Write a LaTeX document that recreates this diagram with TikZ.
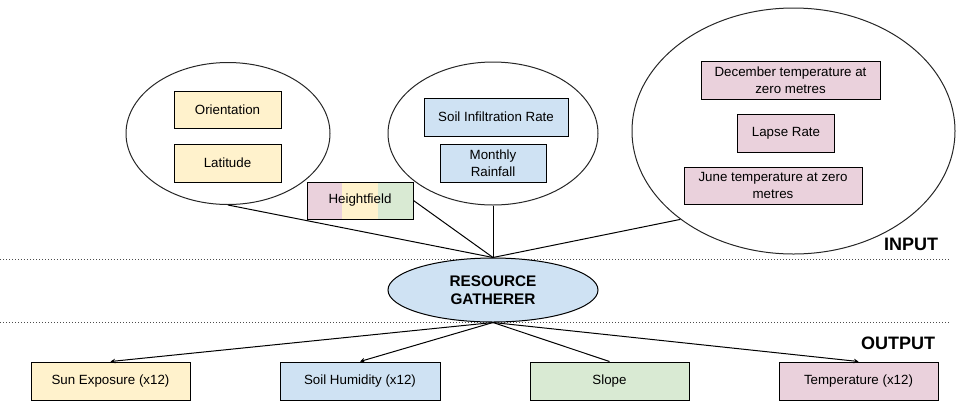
\documentclass[tikz,border=0pt]{standalone}
\usepackage{fontspec}
\setmainfont{Liberation Sans}
\usetikzlibrary{shapes.geometric,calc,arrows.meta}
\definecolor{cyel}{HTML}{FFF2CC}
\definecolor{cblu}{HTML}{CFE2F3}
\definecolor{cgrn}{HTML}{D9EAD3}
\definecolor{cpnk}{HTML}{EAD1DC}
\begin{document}
\begin{tikzpicture}[x=0.75pt,y=-0.75pt,
  box/.style n args={2}{draw=black, line width=0.75pt, minimum width=#1*0.75pt, minimum height=#2*0.75pt, inner sep=0pt, font=\fontsize{10}{12.5}\selectfont, align=center},
  group/.style n args={2}{draw=black!85, line width=0.75pt, ellipse, minimum width=#1*0.75pt, minimum height=#2*0.75pt, inner sep=0pt},
  conn/.style={line width=0.75pt},
  outarrow/.style={conn, -{Stealth[length=3.5pt,width=3.5pt]}},
  sep/.style={black!70, line width=0.75pt, dash pattern=on 0.75pt off 1.5pt},
  tag/.style={font=\fontsize{13.5}{16}\bfseries\selectfont}
]
\useasboundingbox (0,0) rectangle (957,412);
\draw[sep] (0,259) -- (950,259);
\draw[sep] (0,322) -- (950,322);

% input groups
\node[group={204}{142}] (le) at (228,133.5) {};
\node[box={107}{37}, fill=cyel] (ori) at (227.5,109.5) {Orientation};
\node[box={107}{38}, fill=cyel] (lat) at (227.5,163) {Latitude};

\node[group={210}{143}] (me) at (493,133.5) {};
\node[box={144}{38}, fill=cblu] (sir) at (496,117) {Soil Infiltration Rate};
\node[box={106}{38}, fill=cblu] (mr) at (493,163) {Monthly\\Rainfall};

\node[box={106}{37},
  path picture={
    \fill[cpnk] (path picture bounding box.south west) rectangle ($(path picture bounding box.north west)!0.333!(path picture bounding box.north east)$);
    \fill[cyel] ($(path picture bounding box.south west)!0.333!(path picture bounding box.south east)$) rectangle ($(path picture bounding box.north west)!0.667!(path picture bounding box.north east)$);
    \fill[cgrn] ($(path picture bounding box.south west)!0.667!(path picture bounding box.south east)$) rectangle (path picture bounding box.north east);
  }] (hf) at (360,200.5) {Heightfield};

\node[group={323}{246}] (re) at (793.5,131) {};
\node[box={179}{38}, fill=cpnk] (dec) at (790.5,80.5) {December temperature at\\zero metres};
\node[box={97}{38}, fill=cpnk] (lr) at (786,133) {Lapse Rate};
\node[box={178}{37}, fill=cpnk] (jun) at (773,185.5) {June temperature at zero\\metres};

% gatherer
\node[ellipse, draw=black, line width=0.75pt, fill=cblu, minimum width=210*0.75pt, minimum height=64*0.75pt, inner sep=0pt, align=center, font=\fontsize{11.5}{13.5}\bfseries\selectfont] (g) at (493,290) {RESOURCE\\GATHERER};

\node[tag] (inp) at (911,244) {INPUT};
\node[tag] (outp) at (898,343) {OUTPUT};

% outputs
\node[box={159}{38}, fill=cyel] (sun) at (110.5,381) {Sun Exposure (x12)};
\node[box={160}{38}, fill=cblu] (hum) at (360,381) {Soil Humidity (x12)};
\node[box={159}{38}, fill=cgrn] (slo) at (609.5,381) {Slope};
\node[box={159}{38}, fill=cpnk] (tmp) at (858.5,381) {Temperature (x12)};

% connectors
\draw[conn] (le.south) -- (g.north);
\draw[conn] (hf.east) -- (g.north);
\draw[conn] (me.south) -- (g.north);
\draw[conn] (re.218) -- (g.north);
\draw[outarrow] (g.south) -- (sun.north);
\draw[outarrow] (g.south) -- (hum.north);
\draw[conn] (g.south) -- (slo.north);
\draw[outarrow] (g.south) -- (tmp.north);
\end{tikzpicture}
\end{document}
